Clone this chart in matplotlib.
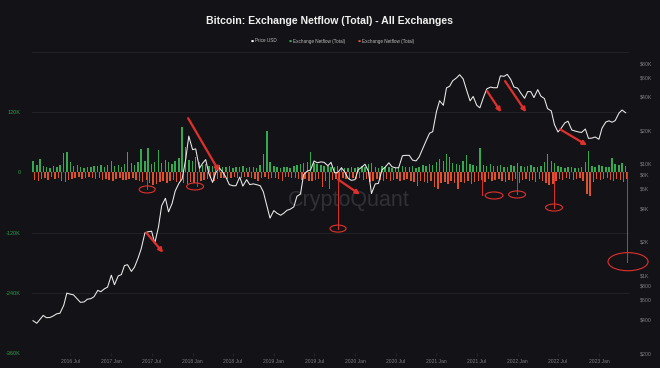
import numpy as np
import pandas as pd
import matplotlib
matplotlib.use("Agg")
import matplotlib.pyplot as plt
import matplotlib.dates as mdates
from matplotlib.patches import Ellipse
from matplotlib.ticker import FixedLocator, FixedFormatter, NullLocator

plt.rcParams['font.family'] = ['Liberation Sans', 'DejaVu Sans']

# ---------------- data (semi-monthly samples) ----------------
dates = pd.date_range('2016-01-15', '2023-05-01', freq='SMS')

price = [
    # 2016
    390, 370, 400, 435, 415, 417, 430, 450, 455, 535, 690, 675, 665, 610, 570, 575, 608, 615, 640, 730, 710, 755, 780,
    # 2017
    1000, 820, 985, 1010, 1220, 1240, 1080, 1180, 1420, 1720, 2400, 2450, 2480, 1930, 2720, 4200, 4900, 3700, 4400, 5700, 6700, 7300, 10900, 17700,
    # 2018
    13400, 13600, 9100, 10100, 10900, 8200, 6800, 8300, 9200, 8500, 7500, 6500, 6350, 6350, 7600, 6300, 7200, 6500, 6600, 6500, 6350, 5600, 4200, 3250,
    # 2019
    3800, 3600, 3450, 3600, 3820, 3900, 4100, 5100, 5350, 8000, 8600, 8800, 10600, 10200, 10400, 10300, 9600, 10300, 8300, 8300, 9200, 8500, 7400, 7100,
    # 2020
    7200, 8800, 9350, 9900, 8600, 5400, 6600, 6650, 8800, 9300, 10200, 9400, 9200, 9200, 11800, 11900, 11900, 10800, 10600, 11500, 13800, 16000, 18800, 19400,
    # 2021
    29400, 36800, 33500, 48000, 49600, 55600, 59000, 63000, 57800, 46700, 36700, 40200, 33500, 31800, 39900, 47000, 48800, 48100, 48200, 61500, 61000, 63500, 57000, 48900,
    # 2022
    47700, 43100, 38700, 44500, 44400, 39300, 46300, 40500, 38500, 31300, 29800, 22500, 19300, 20800, 23300, 24100, 20100, 19700, 19300, 19100, 20500, 16900, 17000, 17400,
    # 2023
    16600, 20900, 23700, 24300, 23600, 24400, 28500, 30400, 28700,
]

netflow_in = [  # thousands BTC (positive, green)
    22, 14, 26, 12, 10, 9, 12, 11, 14, 38, 40, 20, 12, 14, 10, 9, 11, 10, 13, 12, 15, 11, 14,
    22, 12, 14, 11, 16, 40, 18, 14, 20, 46, 22, 48, 16, 20, 44, 18, 24, 20, 16, 22, 28, 90, 50, 24,
    22, 30, 20, 14, 16, 12, 12, 10, 14, 11, 10, 12, 9, 11, 10, 12, 8, 10, 11, 9, 14, 36, 82, 20,
    12, 10, 9, 11, 10, 9, 12, 14, 16, 18, 20, 40, 18, 16, 14, 12, 12, 10, 11, 13, 10, 9, 8, 10,
    9, 11, 12, 10, 16, 18, 10, 9, 12, 11, 10, 9, 8, 10, 12, 11, 10, 12, 9, 11, 14, 12, 16, 14,
    20, 26, 22, 36, 30, 18, 16, 14, 22, 34, 16, 14, 12, 48, 14, 12, 16, 13, 12, 14, 11, 10, 14, 12,
    18, 12, 10, 12, 14, 11, 10, 12, 20, 36, 22, 18, 12, 10, 9, 11, 10, 9, 8, 10, 20, 42, 12, 10,
    14, 12, 10, 11, 28, 16, 14, 18, 12,
]

netflow_out = [  # thousands BTC (shown negative, red)
    16, 18, 14, 12, 16, 10, 14, 12, 18, 20, 16, 14, 12, 10, 14, 12, 10, 11, 14, 12, 16, 13, 15,
    18, 14, 12, 15, 16, 14, 12, 16, 18, 20, 16, 22, 26, 24, 20, 18, 22, 18, 16, 20, 18, 22, 24, 20,
    22, 20, 18, 16, 14, 12, 18, 14, 12, 11, 14, 12, 10, 12, 11, 9, 10, 12, 14, 18, 12, 10, 14, 12,
    12, 14, 18, 10, 9, 11, 12, 14, 16, 14, 18, 18, 16, 14, 30, 18, 34, 16, 14, 18, 12, 14, 16, 12,
    14, 12, 16, 14, 20, 18, 14, 16, 18, 14, 18, 16, 14, 18, 16, 14, 18, 20, 28, 18, 20, 22, 18, 30,
    34, 22, 20, 24, 18, 22, 34, 20, 22, 18, 24, 20, 18, 16, 20, 14, 18, 16, 14, 18, 20, 16, 18, 14,
    22, 16, 14, 18, 16, 20, 14, 18, 22, 26, 24, 18, 14, 16, 12, 14, 16, 14, 12, 18, 44, 48, 20, 14,
    16, 14, 12, 16, 18, 14, 16, 20, 14,
]

assert len(price) == len(dates) == len(netflow_in) == len(netflow_out)

netflow_ticks = [-360, -240, -120, 0, 120]
netflow_labels = ['-360K', '-240K', '-120K', '0', '120K']
price_ticks = [200, 400, 600, 800, 1000, 2000, 4000, 6000, 8000, 10000, 20000, 40000, 60000, 80000]
price_labels = ['$200', '$400', '$600', '$800', '$1K', '$2K', '$4K', '$6K', '$8K', '$10K',
                '$20K', '$40K', '$60K', '$80K']


def yr(v):
    y = int(v)
    return pd.Timestamp(y, 1, 1) + pd.Timedelta(days=(v - y) * 365.25)


BG = '#131317'
GREEN = '#36a852'
RED = '#db522c'
ANN = '#e0302c'

fig = plt.figure(figsize=(6.6, 3.68), dpi=100, facecolor=BG)
ax = fig.add_axes([32 / 660, 15 / 368, 597 / 660, 301 / 368])
ax.set_facecolor(BG)

# watermark
ax.text(0.53, 0.505, 'CryptoQuant', transform=ax.transAxes, ha='center', va='center',
        fontsize=15.5, color='#303036', zorder=0)

x = mdates.date2num(dates)
ax.bar(x, netflow_in, width=6.5, color=GREEN, linewidth=0, zorder=2)
ax.bar(x + 7, [-v for v in netflow_out], width=6.5, color=RED, linewidth=0, zorder=2)

ax.set_ylim(-360, 240)
ax.set_xlim(yr(2016.026), yr(2023.370))
ax.yaxis.set_major_locator(FixedLocator(netflow_ticks))
ax.yaxis.set_major_formatter(FixedFormatter(netflow_labels))
ax.tick_params(axis='y', colors='#2f9a4c', labelsize=4, length=0, pad=8)
ax.grid(axis='y', color='#24242a', linewidth=0.6, zorder=0)
ax.axhline(240, color='#24242a', linewidth=0.6, zorder=0)
for s in ax.spines.values():
    s.set_visible(False)

ax.xaxis.set_major_locator(mdates.MonthLocator(bymonth=[1, 7]))
ax.xaxis.set_major_formatter(mdates.DateFormatter('%Y %b'))
ax.tick_params(axis='x', colors='#2a2a30', labelcolor='#7c7c82', labelsize=3.6, length=2, width=0.5, pad=2)

ax2 = ax.twinx()
ax2.patch.set_visible(False)
ax2.set_yscale('log')
ax2.set_ylim(200, 100800)
ax2.plot(dates, price, color='#ececec', linewidth=0.75, zorder=3)
ax2.yaxis.set_major_locator(FixedLocator(price_ticks))
ax2.yaxis.set_major_formatter(FixedFormatter(price_labels))
ax2.yaxis.set_minor_locator(NullLocator())
ax2.tick_params(axis='y', colors='#7c7c82', labelsize=3.8, length=0, pad=8)
for s in ax2.spines.values():
    s.set_visible(False)

# annotations (drawn on top)
tr = ax.transData
arrows = [((2017.429, -120), (2017.638, -160)),
          ((2017.945, 108), (2018.327, 2)),
          ((2019.790, -14), (2020.061, -44)),
          ((2021.623, 162), (2021.795, 120)),
          ((2021.844, 182), (2022.103, 120)),
          ((2022.521, 86), (2022.853, 54))]
for (x0, y0), (x1, y1) in arrows:
    ax2.annotate('', xy=(mdates.date2num(yr(x1)), y1), xytext=(mdates.date2num(yr(x0)), y0),
                 xycoords=tr, textcoords=tr,
                 arrowprops=dict(arrowstyle='-|>', color=ANN, lw=1.6, mutation_scale=6,
                                 shrinkA=0, shrinkB=0), zorder=5)

ellipses = [(2017.441, 2017.441, -34, 72, 14),
            (2018.056, 2018.031, -28, 76, 14),
            (2019.790, 2019.790, -112, 72, 14),
            (2021.561, 2021.709, -46, 80, 14),
            (2021.992, 2021.992, -44, 76, 14),
            (2022.447, 2022.447, -70, 76, 14),
            (2023.345, 2023.358, -178, 180, 36)]
for lx, cx, cy, w, h in ellipses:
    lxn = mdates.date2num(yr(lx))
    ax2.plot([lxn, lxn], [0, cy], color=ANN, lw=0.7, transform=tr, zorder=5, clip_on=False)
    e = Ellipse((mdates.date2num(yr(cx)), cy), w, h, transform=tr, fill=False,
                edgecolor=ANN, lw=0.8, zorder=5, clip_on=False)
    ax2.add_patch(e)

# title & legend
fig.text(0.5, 1 - 21 / 368, 'Bitcoin: Exchange Netflow (Total) - All Exchanges', ha='center',
         va='center', fontsize=7.6, fontweight='bold', color='#f0f0f0')
leg = [(251 / 660, '#ffffff', 'Price USD'),
       (289 / 660, GREEN, 'Exchange Netflow (Total)'),
       (358 / 660, RED, 'Exchange Netflow (Total)')]
for lx, c, t in leg:
    fig.text(lx, 1 - 41 / 368, '\u25cf', color=c, fontsize=2.5, ha='left', va='center',
             family='DejaVu Sans')
    fig.text(lx + 4 / 660, 1 - 41 / 368, t, color='#bdbdbd', fontsize=3.3, ha='left', va='center')

fig.savefig('out.png', dpi=100, facecolor=BG)
